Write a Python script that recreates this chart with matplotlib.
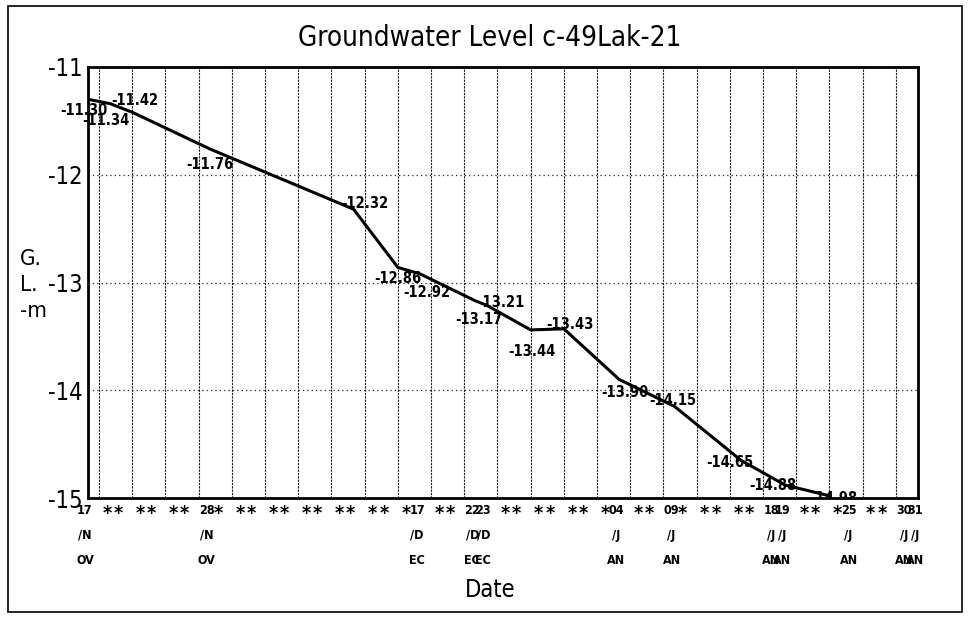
import matplotlib
matplotlib.use("Agg")
import matplotlib.pyplot as plt
import matplotlib.transforms as mtransforms
from matplotlib.patches import Rectangle
import pandas as pd

# ---------------- Data ----------------
start_date = "1995-11-17"
n_days = 76
obs_day = [0, 2, 4, 11, 24, 28, 30, 35, 36, 40, 43, 48, 53, 59, 63, 67]
obs_level = [-11.30, -11.34, -11.42, -11.76, -12.32, -12.86, -12.92, -13.17,
             -13.21, -13.44, -13.43, -13.90, -14.15, -14.65, -14.88, -14.98]
labelled_dates = ["1995-11-17", "1995-11-28", "1995-12-17", "1995-12-22",
                  "1995-12-23", "1996-01-04", "1996-01-09", "1996-01-18",
                  "1996-01-19", "1996-01-25", "1996-01-30", "1996-01-31"]
y_ticks = [-11, -12, -13, -14, -15]

# label offsets in pixels (dx, dy) for each value label
label_offsets = [(-4, -11), (-4, -17), (3, 12), (0, -16), (11, 6), (0, -11),
                 (7, -19), (4, -19), (14, 3), (1, -22), (6, 4), (6, -13),
                 (-2, 6), (-11, -2), (-12, 0), (4, -3)]

FONT = ["Liberation Sans Narrow", "DejaVu Sans"]
plt.rcParams["font.family"] = FONT
plt.rcParams["font.stretch"] = "condensed"

# ---------------- Tick labels ----------------
dates = pd.date_range(start_date, periods=n_days)
shown = set(pd.to_datetime(labelled_dates))
tick_pos, tick_txt = [], []
for i, dt in enumerate(dates):
    if i % 3 == 1:
        continue
    if dt in shown:
        s = dt.strftime("%d/%b").upper()
        s = "\n".join(s[k:k + 2] for k in range(0, len(s), 2))
    else:
        s = "*"
    tick_pos.append(i)
    tick_txt.append(s)

# ---------------- Plot ----------------
fig = plt.figure(figsize=(9.68, 6.27), dpi=100)
ax = fig.add_axes([88 / 968, 1 - 498 / 627, 830 / 968, 431 / 627])

ax.plot(obs_day, obs_level, color="black", lw=2.2, zorder=3)
last = len(obs_day) - 1
for k, (d, v, (dx, dy)) in enumerate(zip(obs_day, obs_level, label_offsets)):
    t = ax.annotate(f"{v:.2f}", (d, v), xytext=(dx, dy), textcoords="offset pixels",
                    ha="center", va="center", fontsize=10.5, fontweight="bold",
                    annotation_clip=False, zorder=4)
    if k == last:
        # last label sits on the bottom frame, only its top shows
        t.set_clip_box(ax.bbox)
        t.set_clip_on(True)
    else:
        t.set_clip_on(False)

ax.set_xlim(0, n_days - 1)
ax.set_ylim(-15, -11)
ax.set_yticks(y_ticks)
ax.set_yticklabels([str(t) for t in y_ticks], fontsize=17)
ax.set_xticks(tick_pos)
ax.set_xticklabels(tick_txt, fontsize=9, fontweight="bold", linespacing=2.2, va="top")
ax.set_xticks(range(1, n_days - 1), minor=True)
ax.tick_params(axis="both", which="both", length=0)
ax.tick_params(axis="y", pad=4)
ax.tick_params(axis="x", pad=4)

shift = mtransforms.ScaledTranslation(-3 / 100, 0, fig.dpi_scale_trans)
for lab in ax.get_xticklabels():
    lab.set_transform(lab.get_transform() + shift)
    if lab.get_text() == "*":
        lab.set_fontsize(14)

ax.grid(which="minor", axis="x", color="0.1", linestyle=(0, (2, 1)), lw=0.8)
ax.grid(which="major", axis="y", color="0.15", linestyle=(0, (1, 2.5)), lw=0.9)
for sp in ax.spines.values():
    sp.set_linewidth(2)

fig.text(490 / 968, 1 - 38 / 627, "Groundwater Level c-49Lak-21",
         ha="center", va="center", fontsize=20)
fig.text(490 / 968, 1 - 590 / 627, "Date", ha="center", va="center", fontsize=17)
fig.text(20 / 968, 1 - 285 / 627, "G.\nL.\n-m", ha="left", va="center",
         fontsize=16, linespacing=1.4)

fig.patches.append(Rectangle((8 / 968, 1 - 612 / 627), 954 / 968, 606 / 627,
                             transform=fig.transFigure, fill=False, lw=1.2,
                             edgecolor="black"))

fig.savefig("out.png", dpi=100)
